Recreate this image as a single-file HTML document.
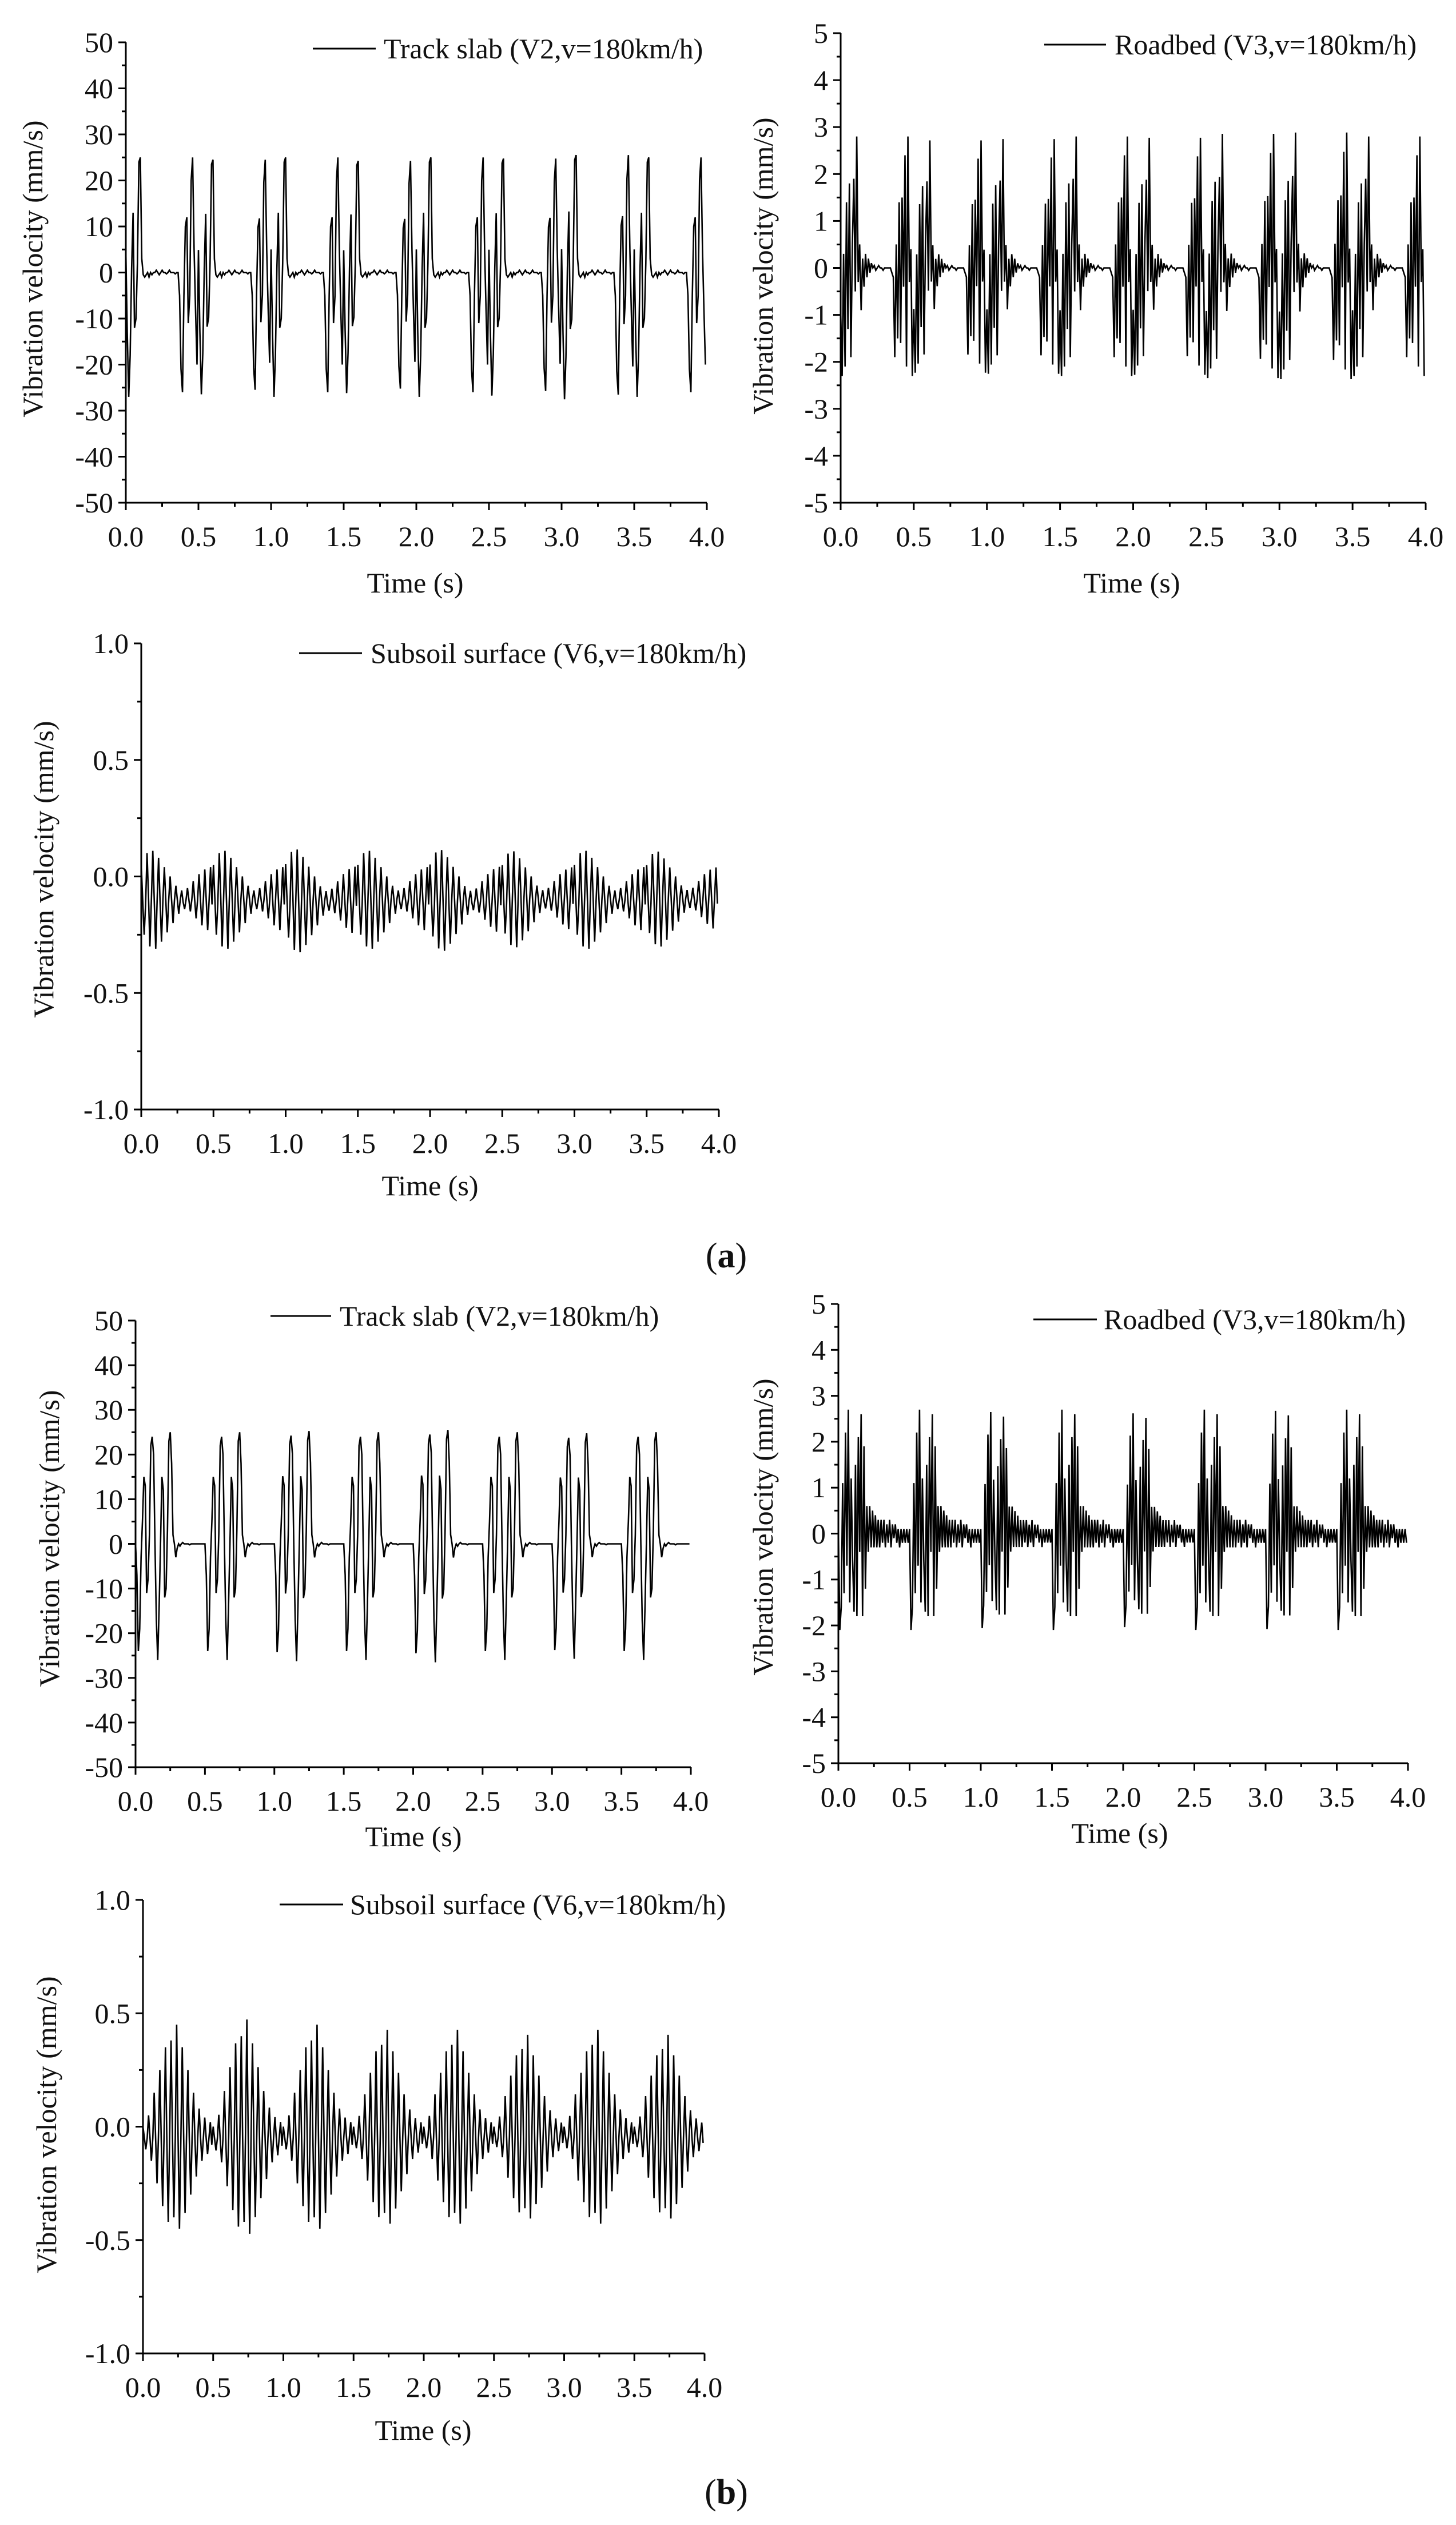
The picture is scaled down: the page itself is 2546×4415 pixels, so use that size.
<!DOCTYPE html>
<html><head><meta charset="utf-8"><title>Vibration velocity time histories</title>
<style>
html,body{margin:0;padding:0;background:#fff;}
svg{display:block;}
text{font-family:"Liberation Serif",serif;fill:#111;}
</style></head>
<body>
<svg id="fig" width="2546" height="4415" viewBox="0 0 2546 4415" xmlns="http://www.w3.org/2000/svg"></svg>
<script>
// ---- data: one 0.5 s period pattern per series, plus per-burst scale ----
const timeTicks = ["0.0","0.5","1.0","1.5","2.0","2.5","3.0","3.5","4.0"];
const slabTicks = ["-50","-40","-30","-20","-10","0","10","20","30","40","50"];
const roadTicks = ["-5","-4","-3","-2","-1","0","1","2","3","4","5"];
const soilTicks = ["-1.0","-0.5","0.0","0.5","1.0"];

const slabA_pattern = [5,-13,-27,-18,1,13,-12,-10,2,24,25,3,-0.5,-1,-0.5,0,-1,0,-0.5,0,0,0.5,0,-0.5,0,0.5,0,0,-0.3,0,0.5,0,0,0,-0.3,0,0,-5,-21,-26,-5,10,12,-11,-5,20,25,5,-8,-20];
const slabA_scale = [1,0.98,1,0.97,1,0.99,1.02,1];
const roadA_pattern = [-0.9,-2.3,0.3,-2.1,1.4,-1.3,1.8,-1.9,0.5,1.9,-0.5,2.8,-0.3,0.5,-0.9,0.2,-0.4,0.3,-0.2,0.2,-0.1,0.1,0,0.05,-0.05,0,0.05,0,0,-0.05,0,0,0,0,0,-0.1,-0.2,-1.9,0.5,-1.5,1.4,-1.6,1.5,-0.4,2.4,-2.1,2.8,-0.3,0.4,-2.3];
const roadA_scale = [1,0.97,0.98,1,0.99,1.02,1.03,1];
const soilA_pattern = [0.05,-0.1,-0.25,-0.12, 0.1,-0.08,-0.3,-0.1, 0.11,-0.1,-0.31,-0.1, 0.08,-0.1,-0.28,-0.1, 0.04,-0.1,-0.24,-0.1, 0,-0.1,-0.2,-0.1, -0.04,-0.1,-0.16,-0.1, -0.06,-0.11,-0.14,-0.1, -0.05,-0.1,-0.15,-0.1, -0.02,-0.1,-0.18,-0.1, 0.01,-0.1,-0.21,-0.1, 0.03,-0.1,-0.23,-0.1, 0.04,-0.12];
const soilA_scale = [1,1,1.05,1,1.03,0.98,1,0.97];
const slabB_pattern = [0,-7,-24,-19,-3,5,15,13,-11,-8,2,22,24,20,0,-17,-26,-14,0,15,12,-12,-10,3,23,25,18,2,0,-3,-1,0,-0.5,0,0.3,0,0,0,0,-0.2,0,0,0,0,0,0,0,0,0,0];
const slabB_scale = [1,1,1.01,1,1.02,1,0.99,1];
const roadB_pattern = [0.1,-2.1,-1.6,1.1,-1.3,2.2,-0.7,2.7,-1.5,1.2,-0.6,-1.7,1.5,-1.8,2.1,-0.4,2.6,-1.8,1.9,-1.2,0.6,-0.4,0.6,-0.3,0.5,-0.3,0.4,-0.3,0.3,-0.3,0.3,-0.2,0.3,-0.3,0.2,-0.2,0.3,-0.3,0.2,-0.1,0.2,-0.2,0.1,-0.3,0.1,-0.2,0.1,-0.2,0.1,-0.2];
const roadB_scale = [1,1,0.98,1,0.97,1,0.99,1];
const soilB_pattern = [0,-0.05,-0.1,-0.05, 0.05,-0.05,-0.15,-0.05, 0.15,-0.05,-0.25,-0.05, 0.25,-0.05,-0.35,-0.05, 0.35,-0.05,-0.42,-0.05, 0.38,-0.05,-0.4,-0.05, 0.45,-0.05,-0.45,-0.05, 0.35,-0.05,-0.38,-0.05, 0.25,-0.05,-0.3,-0.05, 0.15,-0.05,-0.22,-0.05, 0.08,-0.05,-0.15,-0.05, 0.04,-0.05,-0.12,-0.05, 0.02,-0.08];
const soilB_scale = [1,1.05,1,0.95,0.95,0.9,0.95,0.9];

const NS = "http://www.w3.org/2000/svg";
const svg = document.getElementById('fig');
function mk(tag, attrs, parent){
  const e = document.createElementNS(NS, tag);
  for (const k in attrs) e.setAttribute(k, attrs[k]);
  (parent||svg).appendChild(e);
  return e;
}
function buildSeries(pattern, scale){
  const out = [];
  for (let b = 0; b < scale.length; b++)
    for (let i = 0; i < pattern.length; i++) out.push(pattern[i]*scale[b]);
  return out;
}

function drawPlot(cfg){
  const g = mk('g', {});
  
  
  const {L,R,T,B} = cfg;
  const ymin = parseFloat(cfg.yTicks[0]), ymax = parseFloat(cfg.yTicks[cfg.yTicks.length-1]);
  const xs = t => L + (t/4)*(R-L);
  const ys = v => B - (v-ymin)/(ymax-ymin)*(B-T);
  const vals = buildSeries(cfg.pattern, cfg.scale);
  const dt = 0.5/cfg.pattern.length;
  let d = '';
  vals.forEach((v,i)=>{ d += (i?'L':'M') + xs(i*dt).toFixed(1) + ' ' + ys(Math.max(ymin,Math.min(ymax,v))).toFixed(1) + ' '; });
  const line = mk('path', {d:d, fill:'none', stroke:'#000', 'stroke-width':2.6, 'stroke-linejoin':'miter'}, g);
  
  
  const ax = mk('path', {d:`M${L} ${T} L${L} ${B} L${R} ${B}`, fill:'none', stroke:'#000', 'stroke-width':3}, g);
  
  
  timeTicks.forEach((lab,i)=>{
    const t = parseFloat(lab), x = xs(t);
    mk('line', {x1:x, y1:B, x2:x, y2:B+13, stroke:'#000','stroke-width':3}, g);
    if (i < timeTicks.length-1) { const xm = xs(t+0.25); mk('line', {x1:xm, y1:B, x2:xm, y2:B+7, stroke:'#000','stroke-width':3}, g); }
    const tx = mk('text', {x:x, y:B+76, 'font-size':50, 'text-anchor':'middle'}, g);
    tx.textContent = lab;
    
    
  });
  const step = parseFloat(cfg.yTicks[1]) - ymin;
  cfg.yTicks.forEach((lab,i)=>{
    const v = parseFloat(lab), y = ys(v);
    mk('line', {x1:L-13, y1:y, x2:L, y2:y, stroke:'#000','stroke-width':3}, g);
    if (i < cfg.yTicks.length-1) { const ym = ys(v+step/2); mk('line', {x1:L-7, y1:ym, x2:L, y2:ym, stroke:'#000','stroke-width':3}, g); }
    const tx = mk('text', {x:L-22, y:y+17, 'font-size':50, 'text-anchor':'end'}, g);
    tx.textContent = lab;
    
    
  });
  const xt = mk('text', {x:cfg.time[0], y:cfg.time[1]+17, 'font-size':50, 'text-anchor':'middle'}, g);
  xt.textContent = 'Time (s)';
  
  
  const yt = mk('text', {x:0, y:0, 'font-size':50, 'text-anchor':'middle', transform:`translate(${cfg.yt[0]+17},${cfg.yt[1]}) rotate(-90)`}, g);
  yt.textContent = 'Vibration velocity (mm/s)';
  
  
  const lg = mk('g', {}, g);
  
  
  mk('line', {x1:cfg.leg[0], y1:cfg.leg[2], x2:cfg.leg[1], y2:cfg.leg[2], stroke:'#000','stroke-width':3}, lg);
  const lt = mk('text', {x:cfg.leg[3], y:cfg.leg[2]+17, 'font-size':50}, lg);
  lt.textContent = cfg.legend;
}

drawPlot({name:'chart-a-track-slab', L:220,R:1236,T:74,B:879, yTicks:slabTicks, pattern:slabA_pattern, scale:slabA_scale, time:[726,1019], yt:[57,470], leg:[547,657,85,671], legend:'Track slab (V2,v=180km/h)'});
drawPlot({name:'chart-a-roadbed', L:1470,R:2493,T:58,B:879, yTicks:roadTicks, pattern:roadA_pattern, scale:roadA_scale, time:[1979,1019], yt:[1334,465], leg:[1826,1934,78,1949], legend:'Roadbed (V3,v=180km/h)'});
drawPlot({name:'chart-a-subsoil', L:247,R:1257,T:1125,B:1940, yTicks:soilTicks, pattern:soilA_pattern, scale:soilA_scale, time:[752,2073], yt:[76,1520], leg:[523,633,1142,648], legend:'Subsoil surface (V6,v=180km/h)'});
drawPlot({name:'chart-b-track-slab', L:237,R:1208,T:2309,B:3090, yTicks:slabTicks, pattern:slabB_pattern, scale:slabB_scale, time:[723,3211], yt:[86,2690], leg:[473,579,2301,594], legend:'Track slab (V2,v=180km/h)'});
drawPlot({name:'chart-b-roadbed', L:1466,R:2462,T:2280,B:3083, yTicks:roadTicks, pattern:roadB_pattern, scale:roadB_scale, time:[1958,3205], yt:[1334,2670], leg:[1807,1918,2307,1930], legend:'Roadbed (V3,v=180km/h)'});
drawPlot({name:'chart-b-subsoil', L:250,R:1232,T:3322,B:4115, yTicks:soilTicks, pattern:soilB_pattern, scale:soilB_scale, time:[740,4249], yt:[81,3715], leg:[489,600,3330,612], legend:'Subsoil surface (V6,v=180km/h)'});

const pa = mk('text', {x:1270, y:2216, 'font-size':62, 'text-anchor':'middle'});
pa.innerHTML = '(<tspan font-weight="bold">a</tspan>)';


const pb = mk('text', {x:1270, y:4378, 'font-size':62, 'text-anchor':'middle'});
pb.innerHTML = '(<tspan font-weight="bold">b</tspan>)';


</script>
</body></html>
